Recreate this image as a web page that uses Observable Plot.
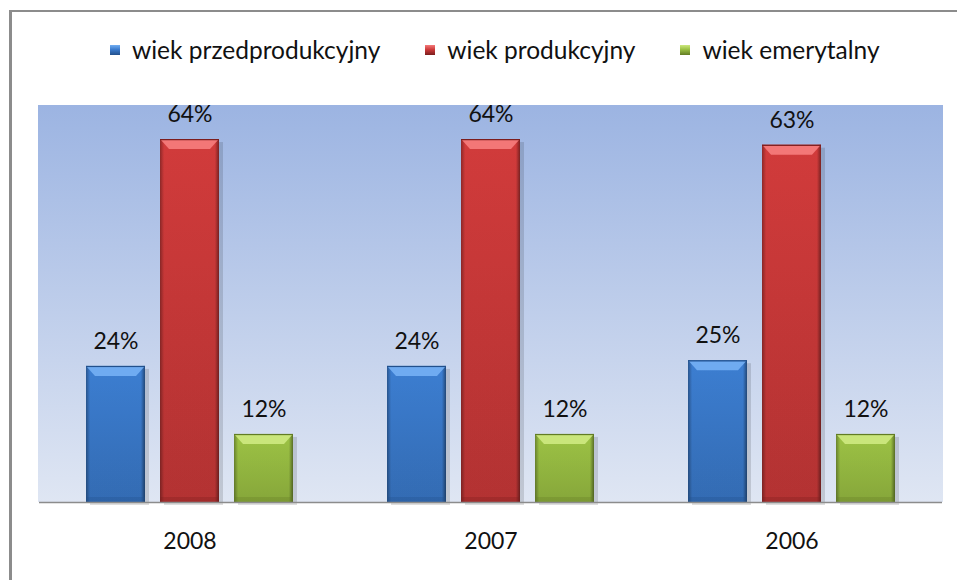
<!DOCTYPE html>
<html>
<head>
<meta charset="utf-8">
<script src="https://cdn.jsdelivr.net/npm/d3@7"></script>
<script src="https://cdn.jsdelivr.net/npm/@observablehq/plot@0.6"></script>
<style>
  html, body { margin: 0; padding: 0; background: #fff; }
  #wrap { position: relative; width: 957px; height: 580px; overflow: hidden; font-family: Lato, "Open Sans", sans-serif; }
  #border { position: absolute; left: 9px; top: 10px; width: 980px; height: 600px; border-top: 2px solid #8c8c8c; border-left: 3px solid #8c8c8c; box-sizing: border-box; }
  #chart { position: absolute; left: 0; top: 0; }
  #legend { position: absolute; left: 110px; top: 38px; display: flex; align-items: center; font-size: 24.5px; line-height: 24px; color: #111; }
  .item { display: flex; align-items: center; margin-right: 45px; }
  .sw { width: 10px; height: 10px; margin-right: 12px; box-sizing: border-box; }
</style>
</head>
<body>
<div id="wrap">
  <div id="border"></div>
  <div id="chart"></div>
  <div id="legend"></div>
</div>
<script>
const years = ["2008", "2007", "2006"];
const groups = ["wiek przedprodukcyjny", "wiek produkcyjny", "wiek emerytalny"];
const przedprodukcyjny = [24, 24, 25];
const produkcyjny = [64, 64, 63];
const emerytalny = [12, 12, 12];

const mainColors = ["#3b7bcd", "#cd3a3a", "#9abf43"];
const lightColors = ["#72aef2", "#f47a7a", "#cce87e"];
const darkColors = ["#22508c", "#7a1d1d", "#627c24"];

const series = [przedprodukcyjny, produkcyjny, emerytalny];
const data = years.flatMap((year, i) =>
  groups.map((group, j) => ({year, group, value: series[j][i]}))
);

const chart = Plot.plot({
  width: 957,
  height: 580,
  marginTop: 105,
  marginBottom: 78,
  marginLeft: 38,
  marginRight: 14,
  style: {background: "transparent", fontFamily: "Lato, 'Open Sans', sans-serif", overflow: "visible"},
  fx: {domain: years, padding: 0, axis: null},
  x: {domain: groups, paddingInner: 0.2, paddingOuter: 0.613, axis: null},
  y: {domain: [0, 70], axis: null},
  color: {domain: groups, range: ["url(#gb)", "url(#gr)", "url(#gg)"]},
  marks: [
    Plot.barY(data, {fx: "year", x: "group", y: "value", fill: "#000", fillOpacity: 0.13, dx: 4, dy: 3}),
    Plot.barY(data, {fx: "year", x: "group", y: "value", fill: "group"}),
    Plot.barY(data, {fx: "year", x: "group", y: "value", fill: "url(#edge)"}),
    Plot.ruleY([0], {stroke: "#8c8c8c", strokeWidth: 1.5}),
    Plot.text(data, {fx: "year", x: "group", y: "value", text: d => d.value + "%", dy: -25, fontSize: 23, fill: "#111"}),
    Plot.text(years, {fx: d => d, text: d => d, frameAnchor: "bottom", dy: 46, fontSize: 23, fill: "#111"})
  ]
});

document.getElementById("chart").appendChild(chart);

const svg = d3.select(chart);
const defs = svg.insert("defs", ":first-child");

const bg = defs.append("linearGradient").attr("id", "bg").attr("x1", 0).attr("y1", 0).attr("x2", 0).attr("y2", 1);
bg.append("stop").attr("offset", "0%").attr("stop-color", "#9cb4e2");
bg.append("stop").attr("offset", "100%").attr("stop-color", "#dfe6f3");

["gb", "gr", "gg"].forEach((id, j) => {
  const g = defs.append("linearGradient").attr("id", id).attr("x1", 0).attr("y1", 0).attr("x2", 0).attr("y2", 1);
  g.append("stop").attr("offset", "0%").attr("stop-color", d3.color(mainColors[j]).brighter(0.2));
  g.append("stop").attr("offset", "100%").attr("stop-color", d3.color(mainColors[j]).darker(0.25));
});

const edge = defs.append("linearGradient").attr("id", "edge").attr("x1", 0).attr("y1", 0).attr("x2", 1).attr("y2", 0);
edge.append("stop").attr("offset", "0%").attr("stop-color", "#000").attr("stop-opacity", 0.35);
edge.append("stop").attr("offset", "7%").attr("stop-color", "#000").attr("stop-opacity", 0.05);
edge.append("stop").attr("offset", "93%").attr("stop-color", "#000").attr("stop-opacity", 0.05);
edge.append("stop").attr("offset", "100%").attr("stop-color", "#000").attr("stop-opacity", 0.45);

// plot-area background from the library's scales
const fxs = chart.scale("fx");
const ys = chart.scale("y");
const x0 = Math.min(...fxs.range), x1 = Math.max(...fxs.range);
const y0 = ys.apply(ys.domain[1]), y1 = ys.apply(0);
svg.insert("rect", "defs + *")
  .attr("x", x0).attr("y", y0).attr("width", x1 - x0).attr("height", y1 - y0)
  .attr("fill", "url(#bg)");

// bevel details on each bar (drawn on top of the edge shading)
const edgeRects = Array.from(chart.querySelectorAll("rect")).filter(n => {
  const f = n.getAttribute("fill") || (n.closest("[fill]") && n.closest("[fill]").getAttribute("fill")) || "";
  return f.indexOf("#edge") >= 0;
});
edgeRects.forEach((node, k) => {
  const x = +node.getAttribute("x"), y = +node.getAttribute("y");
  const w = +node.getAttribute("width"), h = +node.getAttribute("height");
  const j = k % 3;
  const par = d3.select(node.parentNode);
  par.append("polygon")
    .attr("points", `${x + 1},${y + 1} ${x + w - 1},${y + 1} ${x + w - 9},${y + 10} ${x + 9},${y + 10}`)
    .attr("fill", lightColors[j]).attr("opacity", 0.95);
  par.append("rect").attr("x", x).attr("y", y).attr("width", w).attr("height", 1.2)
    .attr("fill", darkColors[j]);
  par.append("rect").attr("x", x).attr("y", y + h - 5).attr("width", w).attr("height", 5)
    .attr("fill", darkColors[j]).attr("opacity", 0.3);
});

// legend
const legend = d3.select("#legend");
groups.forEach((g, j) => {
  const it = legend.append("div").attr("class", "item");
  it.append("div").attr("class", "sw")
    .style("background", `linear-gradient(${lightColors[j]}, ${mainColors[j]} 45%, ${darkColors[j]})`);
  it.append("span").text(g);
});
</script>
</body>
</html>
